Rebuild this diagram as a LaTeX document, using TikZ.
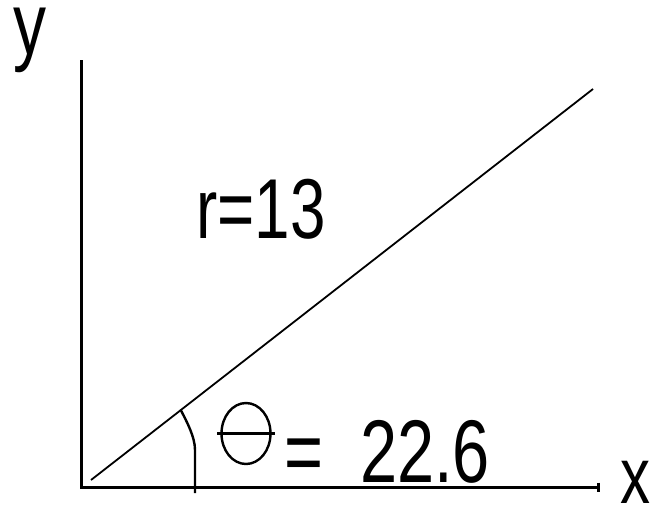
\documentclass[tikz,border=0pt]{standalone}
\usepackage{fontspec}
\setmainfont{Liberation Sans}
\tikzset{
  axis/.style={line width=3pt, line cap=rect},
  ray/.style={line width=1.8pt},
  anglemark/.style={line width=2.4pt},
  lbl/.style={inner sep=0pt, anchor=base west, xscale=0.75},
}
\begin{document}
\begin{tikzpicture}[x=1pt,y=-1pt]
\useasboundingbox (0,0) rectangle (652,507);
% key points
\coordinate (ytop) at (81.5,61);
\coordinate (corner) at (81.5,487.5);
\coordinate (xend) at (598,487.5);
\coordinate (rs) at (91,480);
\coordinate (re) at (593,89);
\coordinate (ap) at (180.5,409.5);
\coordinate (ak) at (195,450);
\coordinate (ab) at (195,493);
% axes
\draw[axis] (ytop) -- (corner) -- (xend);
\draw[line width=3pt] (xend) ++(0,-5) -- ++(0,9);
% ray
\draw[ray] (rs) -- (re);
% angle mark
\draw[anglemark] (ap) .. controls (187,422) and (195,437) .. (ak) -- (ab);
% theta symbol
\draw[anglemark] (246,433.5) ellipse [x radius=24.5, y radius=30.5];
\draw[anglemark] (217,433.5) -- (275,433.5);
% labels
\node[lbl, font=\fontsize{88}{90}\selectfont, text height=44pt, text depth=18pt] (ylab) at (13,54) {y};
\node[lbl, font=\fontsize{80}{82}\selectfont, text height=41pt, text depth=3pt] (xlab) at (620,503) {x};
\node[lbl, font=\fontsize{85}{87}\selectfont] (rlab) at (196,238) {r=13};
\node[lbl, font=\fontsize{89}{91}\selectfont] (tlab) at (284,482) {=\ \ 22.6};
\end{tikzpicture}
\end{document}
